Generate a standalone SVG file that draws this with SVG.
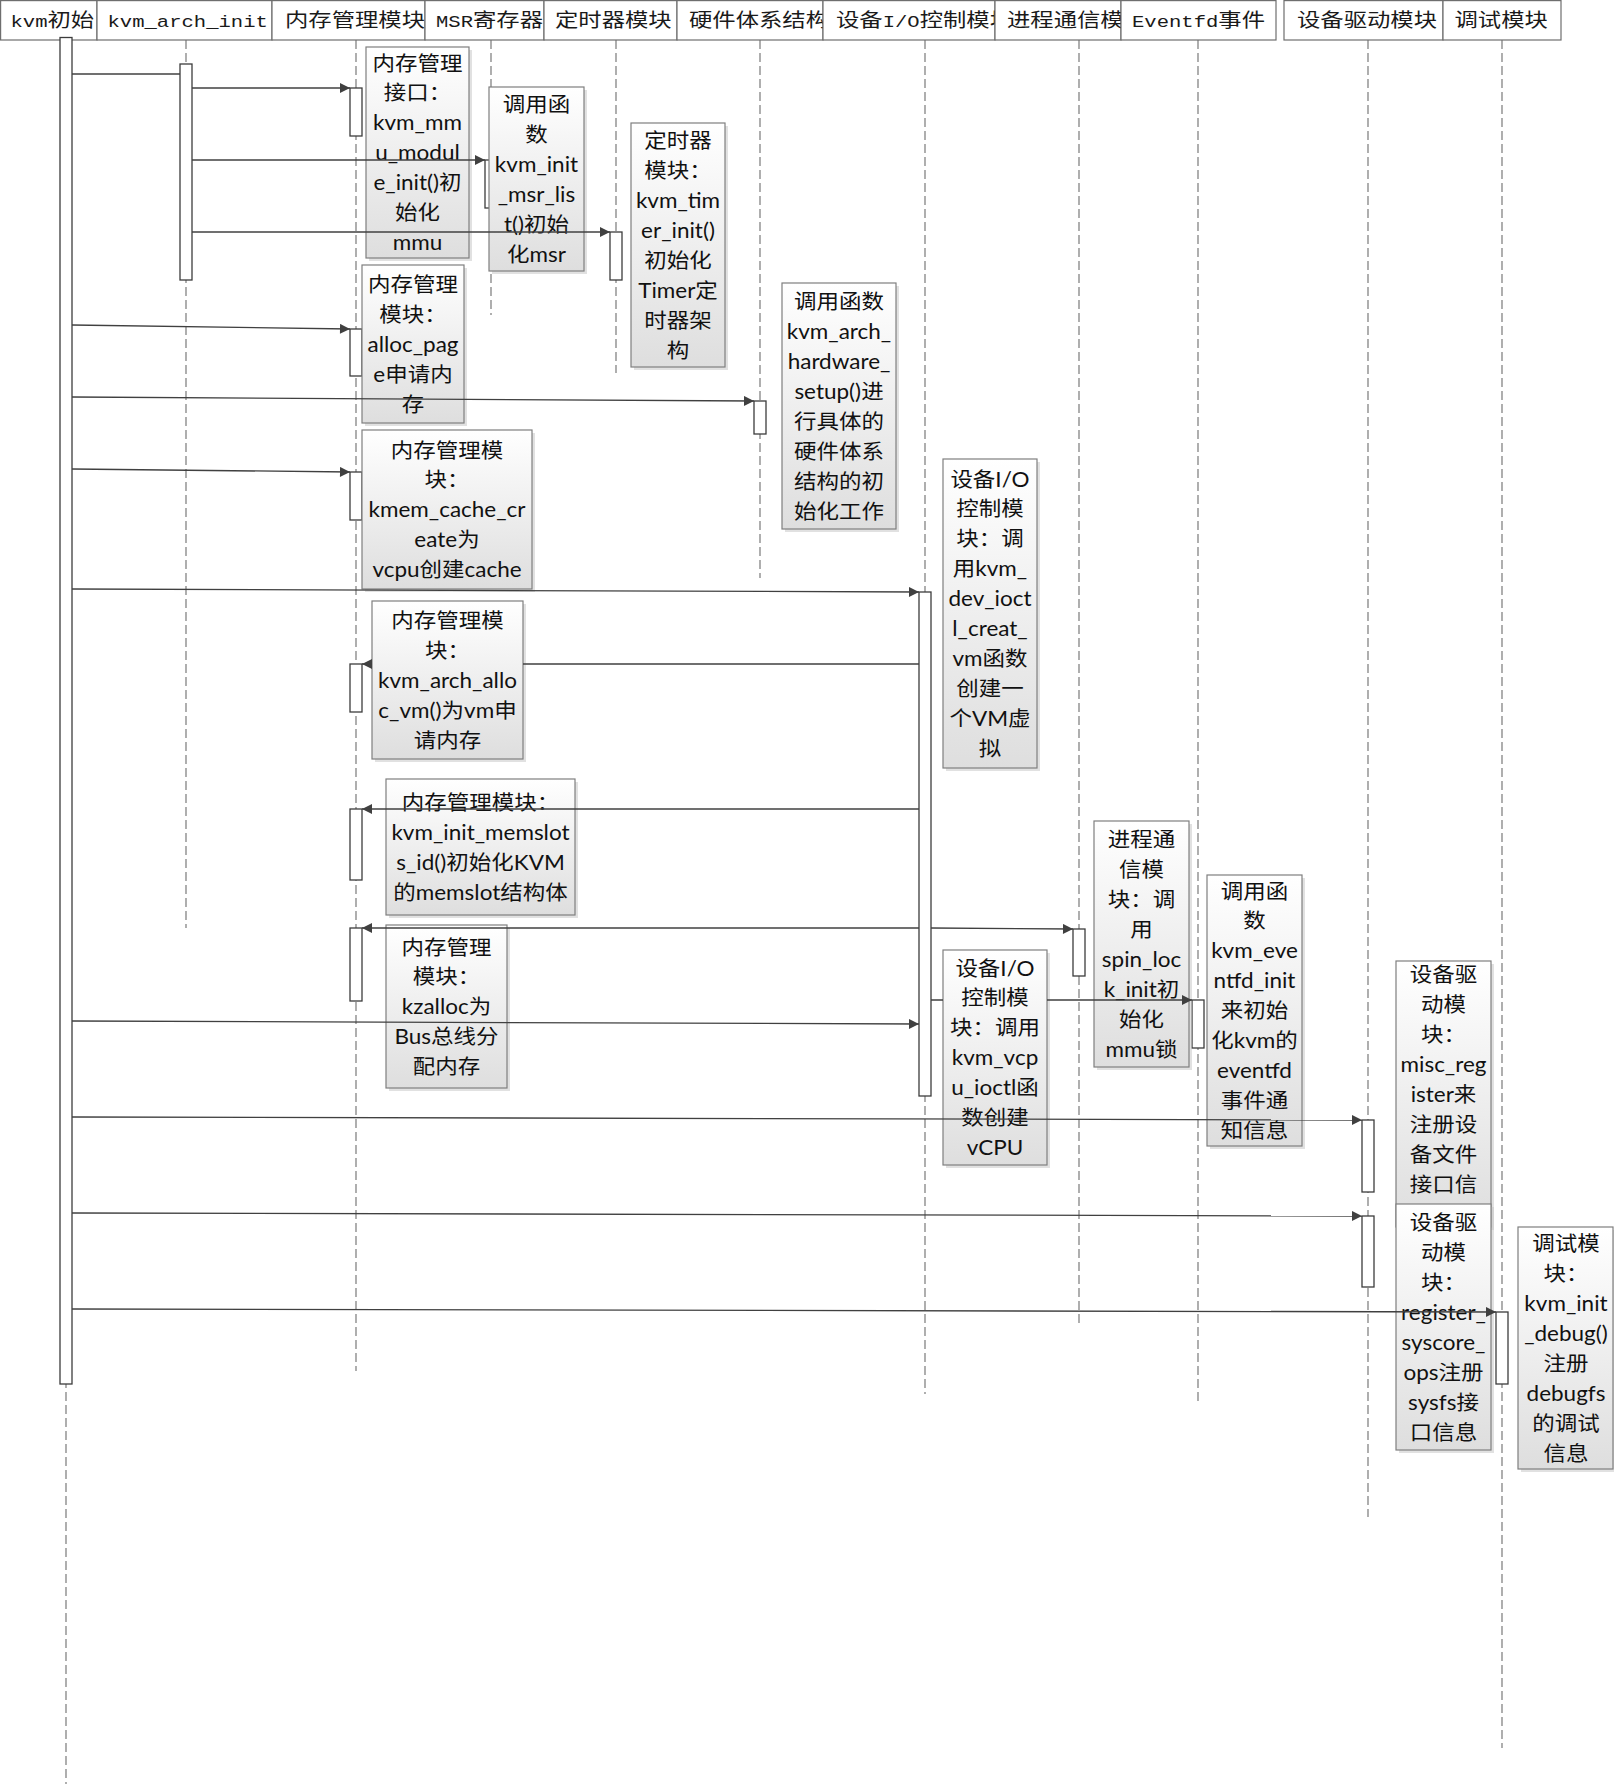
<svg xmlns="http://www.w3.org/2000/svg" width="1616" height="1784" viewBox="0 0 1616 1784">
  <style>
    .hbox { fill: #ffffff; stroke: #6e6e6e; stroke-width: 1.2; }
    .ht { font-family: "Noto Sans CJK SC", sans-serif; font-size: 19.3px; fill: #1a1a1a; }
    .lat { font-family: "Liberation Mono", "Noto Sans CJK SC", monospace; font-size: 17px; }
    .life { stroke: #7a7a7a; stroke-width: 1.2; stroke-dasharray: 9 4; fill: none; }
    .bar { fill: #ffffff; stroke: #3c3c3c; stroke-width: 1.3; }
    .note { fill: url(#noteFill); stroke: #7f7f7f; stroke-width: 1.2; }
    .shadow { fill: #c8c8c8; opacity: 0.55; }
    .nt { font-family: "Lato", "Noto Sans CJK SC", sans-serif; font-size: 22.5px; fill: #111111; text-anchor: middle; }
    .msg { stroke: #404040; stroke-width: 1.3; fill: none; }
    .arr { marker-end: url(#head); }
  </style>
  <defs>
    <linearGradient id="noteFill" x1="0" y1="0" x2="0" y2="1">
      <stop offset="0" stop-color="#ffffff"/>
      <stop offset="1" stop-color="#dedede"/>
    </linearGradient>
    <marker id="head" viewBox="0 0 10 10" refX="10" refY="5" markerWidth="11" markerHeight="10" orient="auto" markerUnits="userSpaceOnUse">
      <path d="M0,0 L10,5 L0,10 z" fill="#404040"/>
    </marker>
    <!-- header cells clip their labels -->
    <clipPath id="clipMem"><rect x="272" y="0" width="153" height="40"/></clipPath>
    <clipPath id="clipArch"><rect x="677" y="0" width="146" height="40"/></clipPath>
    <clipPath id="clipIo"><rect x="823" y="0" width="172" height="40"/></clipPath>
    <clipPath id="clipIpc"><rect x="995" y="0" width="126" height="40"/></clipPath>
  </defs>

  <rect x="0" y="0" width="1616" height="1784" fill="#ffffff"/>

  <!-- lifelines -->
  <g id="lifelines">
    <line class="life" x1="66" y1="40" x2="66" y2="1784"/>
    <line class="life" x1="186" y1="40" x2="186" y2="928"/>
    <line class="life" x1="356" y1="40" x2="356" y2="1371"/>
    <line class="life" x1="491" y1="40" x2="491" y2="315"/>
    <line class="life" x1="616" y1="40" x2="616" y2="373"/>
    <line class="life" x1="760" y1="40" x2="760" y2="578"/>
    <line class="life" x1="925" y1="40" x2="925" y2="1394"/>
    <line class="life" x1="1079" y1="40" x2="1079" y2="1327"/>
    <line class="life" x1="1198" y1="40" x2="1198" y2="1402"/>
    <line class="life" x1="1368" y1="40" x2="1368" y2="1517"/>
    <line class="life" x1="1502" y1="40" x2="1502" y2="1748"/>
  </g>

  <!-- participant header row -->
  <g id="header">
    <g id="p-kvm-init">
      <rect class="hbox" x="0.6" y="0.6" width="96.4" height="39.4"/>
      <text class="ht" transform="translate(10.5,27) scale(1.21,1)"><tspan class="lat">kvm</tspan>初始</text>
    </g>
    <g id="p-kvm-arch-init">
      <rect class="hbox" x="97" y="0.6" width="175" height="39.4"/>
      <text class="ht" transform="translate(107.5,27) scale(1.21,1)"><tspan class="lat">kvm_arch_init</tspan></text>
    </g>
    <g id="p-mem">
      <rect class="hbox" x="272" y="0.6" width="153" height="39.4"/>
      <g clip-path="url(#clipMem)">
        <text class="ht" transform="translate(285,27) scale(1.21,1)">内存管理模块</text>
      </g>
    </g>
    <g id="p-msr">
      <rect class="hbox" x="425" y="0.6" width="119" height="39.4"/>
      <text class="ht" transform="translate(436,27) scale(1.21,1)"><tspan class="lat">MSR</tspan>寄存器</text>
    </g>
    <g id="p-timer">
      <rect class="hbox" x="544" y="0.6" width="133" height="39.4"/>
      <text class="ht" transform="translate(555,27) scale(1.21,1)">定时器模块</text>
    </g>
    <g id="p-arch">
      <rect class="hbox" x="677" y="0.6" width="146" height="39.4"/>
      <g clip-path="url(#clipArch)">
        <text class="ht" transform="translate(689,27) scale(1.21,1)">硬件体系结构</text>
      </g>
    </g>
    <g id="p-io">
      <rect class="hbox" x="823" y="0.6" width="172" height="39.4"/>
      <g clip-path="url(#clipIo)">
        <text class="ht" transform="translate(836,27) scale(1.21,1)">设备<tspan class="lat">I/O</tspan>控制模块</text>
      </g>
    </g>
    <g id="p-ipc">
      <rect class="hbox" x="995" y="0.6" width="126" height="39.4"/>
      <g clip-path="url(#clipIpc)">
        <text class="ht" transform="translate(1007,27) scale(1.21,1)">进程通信模块</text>
      </g>
    </g>
    <g id="p-eventfd">
      <rect class="hbox" x="1121" y="0.6" width="155" height="39.4"/>
      <text class="ht" transform="translate(1132,27) scale(1.21,1)"><tspan class="lat">Eventfd</tspan>事件</text>
    </g>
    <g id="p-driver">
      <rect class="hbox" x="1284" y="0.6" width="159" height="39.4"/>
      <text class="ht" transform="translate(1297,27) scale(1.21,1)">设备驱动模块</text>
    </g>
    <g id="p-debug">
      <rect class="hbox" x="1443" y="0.6" width="118" height="39.4"/>
      <text class="ht" transform="translate(1454.5,27) scale(1.21,1)">调试模块</text>
    </g>
  </g>

  <!-- activation bars -->
  <g id="activations">
    <rect id="act-init" class="bar" x="60" y="37.5" width="12" height="1346.5"/>
    <rect id="act-arch" class="bar" x="180" y="64" width="12" height="216"/>
    <rect id="act-mem1" class="bar" x="350" y="88" width="12" height="48"/>
    <rect id="act-mem2" class="bar" x="350" y="329" width="12" height="47"/>
    <rect id="act-mem3" class="bar" x="350" y="472" width="12" height="48"/>
    <rect id="act-mem4" class="bar" x="350" y="664" width="12" height="48"/>
    <rect id="act-mem5" class="bar" x="350" y="809" width="12" height="71"/>
    <rect id="act-mem6" class="bar" x="350" y="928" width="12" height="73"/>
    <rect id="act-msr" class="bar" x="485" y="160" width="12" height="48"/>
    <rect id="act-timer" class="bar" x="610" y="232" width="12" height="48"/>
    <rect id="act-arch-hw" class="bar" x="754" y="401" width="12" height="33"/>
    <rect id="act-io" class="bar" x="919" y="592" width="12" height="504"/>
    <rect id="act-ipc" class="bar" x="1073" y="929" width="12" height="47"/>
    <rect id="act-eventfd" class="bar" x="1192" y="1000" width="12" height="48"/>
    <rect id="act-drv1" class="bar" x="1362" y="1120" width="12" height="72"/>
    <rect id="act-drv2" class="bar" x="1362" y="1216" width="12" height="71"/>
    <rect id="act-debug" class="bar" x="1496" y="1312" width="12" height="72"/>
  </g>

  <!-- notes: text blocks are centred, 30px per line -->
  <g id="notes">
    <g id="note-mmu">
      <rect class="shadow" x="369" y="50" width="103" height="211"/>
      <rect class="note" x="366" y="47" width="103" height="211"/>
      <text class="nt" transform="translate(417.5,70.5) scale(1,0.91)"><tspan x="0" y="0">内存管理</tspan><tspan x="0" dy="32.967">接口：</tspan><tspan x="0" dy="32.967">kvm_mm</tspan><tspan x="0" dy="32.967">u_modul</tspan><tspan x="0" dy="32.967">e_init()初</tspan><tspan x="0" dy="32.967">始化</tspan><tspan x="0" dy="32.967">mmu</tspan></text>
    </g>
    <g id="note-msr">
      <rect class="shadow" x="492" y="90" width="95" height="184"/>
      <rect class="note" x="489" y="87" width="95" height="184"/>
      <text class="nt" transform="translate(536.5,112) scale(1,0.91)"><tspan x="0" y="0">调用函</tspan><tspan x="0" dy="32.967">数</tspan><tspan x="0" dy="32.967">kvm_init</tspan><tspan x="0" dy="32.967">_msr_lis</tspan><tspan x="0" dy="32.967">t()初始</tspan><tspan x="0" dy="32.967">化msr</tspan></text>
    </g>
    <g id="note-timer">
      <rect class="shadow" x="634" y="126" width="94" height="244"/>
      <rect class="note" x="631" y="123" width="94" height="244"/>
      <text class="nt" transform="translate(678,148) scale(1,0.91)"><tspan x="0" y="0">定时器</tspan><tspan x="0" dy="32.967">模块：</tspan><tspan x="0" dy="32.967">kvm_tim</tspan><tspan x="0" dy="32.967">er_init()</tspan><tspan x="0" dy="32.967">初始化</tspan><tspan x="0" dy="32.967">Timer定</tspan><tspan x="0" dy="32.967">时器架</tspan><tspan x="0" dy="32.967">构</tspan></text>
    </g>
    <g id="note-alloc-page">
      <rect class="shadow" x="365" y="268" width="102" height="158"/>
      <rect class="note" x="362" y="265" width="102" height="158"/>
      <text class="nt" transform="translate(413,292) scale(1,0.91)"><tspan x="0" y="0">内存管理</tspan><tspan x="0" dy="32.967">模块：</tspan><tspan x="0" dy="32.967">alloc_pag</tspan><tspan x="0" dy="32.967">e申请内</tspan><tspan x="0" dy="32.967">存</tspan></text>
    </g>
    <g id="note-hw-setup">
      <rect class="shadow" x="785" y="286" width="114" height="246"/>
      <rect class="note" x="782" y="283" width="114" height="246"/>
      <text class="nt" transform="translate(839,309) scale(1,0.91)"><tspan x="0" y="0">调用函数</tspan><tspan x="0" dy="32.967">kvm_arch_</tspan><tspan x="0" dy="32.967">hardware_</tspan><tspan x="0" dy="32.967">setup()进</tspan><tspan x="0" dy="32.967">行具体的</tspan><tspan x="0" dy="32.967">硬件体系</tspan><tspan x="0" dy="32.967">结构的初</tspan><tspan x="0" dy="32.967">始化工作</tspan></text>
    </g>
    <g id="note-kmem-cache">
      <rect class="shadow" x="365" y="433" width="170" height="159"/>
      <rect class="note" x="362" y="430" width="170" height="159"/>
      <text class="nt" transform="translate(447,457.5) scale(1,0.91)"><tspan x="0" y="0">内存管理模</tspan><tspan x="0" dy="32.967">块：</tspan><tspan x="0" dy="32.967">kmem_cache_cr</tspan><tspan x="0" dy="32.967">eate为</tspan><tspan x="0" dy="32.967">vcpu创建cache</tspan></text>
    </g>
    <g id="note-create-vm">
      <rect class="shadow" x="946" y="462" width="94" height="309"/>
      <rect class="note" x="943" y="459" width="94" height="309"/>
      <text class="nt" transform="translate(990,486.5) scale(1,0.91)"><tspan x="0" y="0">设备I/O</tspan><tspan x="0" dy="32.967">控制模</tspan><tspan x="0" dy="32.967">块：调</tspan><tspan x="0" dy="32.967">用kvm_</tspan><tspan x="0" dy="32.967">dev_ioct</tspan><tspan x="0" dy="32.967">l_creat_</tspan><tspan x="0" dy="32.967">vm函数</tspan><tspan x="0" dy="32.967">创建一</tspan><tspan x="0" dy="32.967">个VM虚</tspan><tspan x="0" dy="32.967">拟</tspan></text>
    </g>
    <g id="note-alloc-vm">
      <rect class="shadow" x="375" y="604" width="151" height="158"/>
      <rect class="note" x="372" y="601" width="151" height="158"/>
      <text class="nt" transform="translate(447.5,628) scale(1,0.91)"><tspan x="0" y="0">内存管理模</tspan><tspan x="0" dy="32.967">块：</tspan><tspan x="0" dy="32.967">kvm_arch_allo</tspan><tspan x="0" dy="32.967">c_vm()为vm申</tspan><tspan x="0" dy="32.967">请内存</tspan></text>
    </g>
    <g id="note-memslots">
      <rect class="shadow" x="389" y="782" width="189" height="136"/>
      <rect class="note" x="386" y="779" width="189" height="136"/>
      <text class="nt" transform="translate(480.5,810) scale(1,0.91)"><tspan x="0" y="0">内存管理模块：</tspan><tspan x="0" dy="32.967">kvm_init_memslot</tspan><tspan x="0" dy="32.967">s_id()初始化KVM</tspan><tspan x="0" dy="32.967">的memslot结构体</tspan></text>
    </g>
    <g id="note-kzalloc">
      <rect class="shadow" x="389" y="928" width="121" height="163"/>
      <rect class="note" x="386" y="925" width="121" height="163"/>
      <text class="nt" transform="translate(446.5,954.5) scale(1,0.91)"><tspan x="0" y="0">内存管理</tspan><tspan x="0" dy="32.967">模块：</tspan><tspan x="0" dy="32.967">kzalloc为</tspan><tspan x="0" dy="32.967">Bus总线分</tspan><tspan x="0" dy="32.967">配内存</tspan></text>
    </g>
    <g id="note-spinlock">
      <rect class="shadow" x="1097" y="824" width="95" height="246"/>
      <rect class="note" x="1094" y="821" width="95" height="246"/>
      <text class="nt" transform="translate(1141.5,847) scale(1,0.91)"><tspan x="0" y="0">进程通</tspan><tspan x="0" dy="32.967">信模</tspan><tspan x="0" dy="32.967">块：调</tspan><tspan x="0" dy="32.967">用</tspan><tspan x="0" dy="32.967">spin_loc</tspan><tspan x="0" dy="32.967">k_init初</tspan><tspan x="0" dy="32.967">始化</tspan><tspan x="0" dy="32.967">mmu锁</tspan></text>
    </g>
    <g id="note-create-vcpu">
      <rect class="shadow" x="946" y="953" width="104" height="215"/>
      <rect class="note" x="943" y="950" width="104" height="215"/>
      <text class="nt" transform="translate(995,975.5) scale(1,0.91)"><tspan x="0" y="0">设备I/O</tspan><tspan x="0" dy="32.967">控制模</tspan><tspan x="0" dy="32.967">块：调用</tspan><tspan x="0" dy="32.967">kvm_vcp</tspan><tspan x="0" dy="32.967">u_ioctl函</tspan><tspan x="0" dy="32.967">数创建</tspan><tspan x="0" dy="32.967">vCPU</tspan></text>
    </g>
    <g id="note-eventfd">
      <rect class="shadow" x="1210" y="878" width="95" height="271"/>
      <rect class="note" x="1207" y="875" width="95" height="271"/>
      <text class="nt" transform="translate(1254.5,898.5) scale(1,0.91)"><tspan x="0" y="0">调用函</tspan><tspan x="0" dy="32.967">数</tspan><tspan x="0" dy="32.967">kvm_eve</tspan><tspan x="0" dy="32.967">ntfd_init</tspan><tspan x="0" dy="32.967">来初始</tspan><tspan x="0" dy="32.967">化kvm的</tspan><tspan x="0" dy="32.967">eventfd</tspan><tspan x="0" dy="32.967">事件通</tspan><tspan x="0" dy="32.967">知信息</tspan></text>
    </g>
    <g id="note-misc-register">
      <rect class="shadow" x="1399" y="964" width="95" height="266"/>
      <rect class="note" x="1396" y="961" width="95" height="266"/>
      <text class="nt" transform="translate(1443.5,982) scale(1,0.91)"><tspan x="0" y="0">设备驱</tspan><tspan x="0" dy="32.967">动模</tspan><tspan x="0" dy="32.967">块：</tspan><tspan x="0" dy="32.967">misc_reg</tspan><tspan x="0" dy="32.967">ister来</tspan><tspan x="0" dy="32.967">注册设</tspan><tspan x="0" dy="32.967">备文件</tspan><tspan x="0" dy="32.967">接口信</tspan><tspan x="0" dy="32.967">息</tspan></text>
    </g>
    <g id="note-syscore">
      <rect class="shadow" x="1399" y="1207" width="95" height="246"/>
      <rect class="note" x="1396" y="1204" width="95" height="246"/>
      <text class="nt" transform="translate(1443.5,1230) scale(1,0.91)"><tspan x="0" y="0">设备驱</tspan><tspan x="0" dy="32.967">动模</tspan><tspan x="0" dy="32.967">块：</tspan><tspan x="0" dy="32.967">register_</tspan><tspan x="0" dy="32.967">syscore_</tspan><tspan x="0" dy="32.967">ops注册</tspan><tspan x="0" dy="32.967">sysfs接</tspan><tspan x="0" dy="32.967">口信息</tspan></text>
    </g>
    <g id="note-debug">
      <rect class="shadow" x="1521" y="1230" width="93" height="242"/>
      <rect class="note" x="1518" y="1227" width="95" height="242"/>
      <text class="nt" transform="translate(1566,1251) scale(1,0.91)"><tspan x="0" y="0">调试模</tspan><tspan x="0" dy="32.967">块：</tspan><tspan x="0" dy="32.967">kvm_init</tspan><tspan x="0" dy="32.967">_debug()</tspan><tspan x="0" dy="32.967">注册</tspan><tspan x="0" dy="32.967">debugfs</tspan><tspan x="0" dy="32.967">的调试</tspan><tspan x="0" dy="32.967">信息</tspan></text>
    </g>
  </g>

  <!-- messages -->
  <g id="connectors">
    <line class="msg" x1="72" y1="74" x2="180" y2="74"/>
    <line class="msg arr" x1="192" y1="88" x2="350" y2="88"/>
    <line class="msg arr" x1="192" y1="160" x2="485" y2="160"/>
    <line class="msg arr" x1="192" y1="232" x2="610" y2="232"/>
    <line class="msg arr" x1="72" y1="325" x2="350" y2="329"/>
    <line class="msg arr" x1="72" y1="397" x2="754" y2="401"/>
    <line class="msg arr" x1="72" y1="469" x2="350" y2="472"/>
    <line class="msg arr" x1="72" y1="589" x2="919" y2="592"/>
    <!-- runs behind the kvm_arch_alloc_vm note -->
    <path class="msg arr" d="M919,664 H523 M372,664 H362"/>
    <line class="msg arr" x1="919" y1="809" x2="362" y2="809"/>
    <line class="msg arr" x1="919" y1="928" x2="362" y2="928"/>
    <line class="msg arr" x1="931" y1="928" x2="1073" y2="929"/>
    <!-- runs behind the vCPU note -->
    <path class="msg arr" d="M931,1000 H943 M1047,1000 H1192"/>
    <line class="msg arr" x1="72" y1="1021" x2="919" y2="1024"/>
    <line class="msg arr" x1="72" y1="1117" x2="1362" y2="1120"/>
    <line class="msg arr" x1="72" y1="1213" x2="1362" y2="1216"/>
    <line class="msg arr" x1="72" y1="1309" x2="1496" y2="1312"/>
  </g>
</svg>
